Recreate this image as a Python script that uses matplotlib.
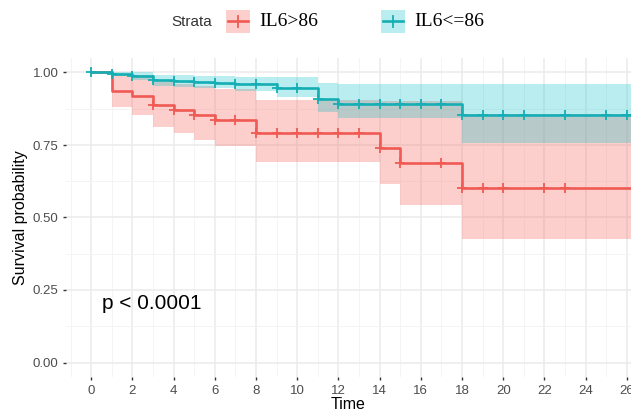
import numpy as np
import matplotlib
matplotlib.use("Agg")
import matplotlib.pyplot as plt
from matplotlib.patches import Rectangle
from matplotlib.lines import Line2D
from matplotlib.ticker import MultipleLocator

plt.rcParams["font.family"] = ["Liberation Sans", "DejaVu Sans"]

# KM curve for IL6>86 (event times, survival, CI)
red_time = [0, 1, 2, 3, 4, 5, 6, 8, 14, 15, 18]
red_surv = [1.0, 0.937, 0.919, 0.887, 0.870, 0.853, 0.835, 0.790, 0.740, 0.687, 0.600]
red_lo = [1.0, 0.880, 0.855, 0.811, 0.791, 0.768, 0.746, 0.692, 0.616, 0.544, 0.427]
red_hi = [1.0, 0.990, 0.990, 0.967, 0.960, 0.952, 0.943, 0.905, 0.900, 0.900, 0.857]
red_cens = [3, 4, 5, 6, 7, 8, 9, 10, 11, 12, 13, 14, 15, 17, 18, 19, 20, 22, 23]

# KM curve for IL6<=86
teal_time = [0, 1, 2, 3, 4, 5, 6, 7, 9, 11, 12, 18]
teal_surv = [1.0, 0.996, 0.989, 0.975, 0.969, 0.967, 0.965, 0.959, 0.947, 0.909, 0.893, 0.853]
teal_lo = [1.0, 0.988, 0.975, 0.955, 0.950, 0.948, 0.945, 0.937, 0.917, 0.865, 0.842, 0.757]
teal_hi = [1.0, 1.0, 1.0, 0.993, 0.990, 0.988, 0.987, 0.985, 0.983, 0.965, 0.962, 0.962]
teal_cens = [0, 1, 2, 3, 4, 5, 6, 7, 8, 9, 10, 11, 12, 13, 14, 15, 16, 17, 18, 19, 20, 21, 23, 25, 26]

end_time = 26.5
labels = ["IL6>86", "IL6<=86"]
RED = "#F8766D"
TEAL = "#00BFC4"
RED_LINE = "#F05A54"
TEAL_LINE = "#14AEB4"

W, H = 631, 411
fig = plt.figure(figsize=(W / 100, H / 100), dpi=100)
ax = fig.add_axes([66 / W, 1 - 377 / H, (W - 66) / W, (377 - 58) / H])


def draw_curve(t, s, lo, hi, cens, col, lcol, a):
    t = list(t) + [end_time]
    s = list(s) + [s[-1]]
    lo = list(lo) + [lo[-1]]
    hi = list(hi) + [hi[-1]]
    ax.fill_between(t, lo, hi, step="post", color=col, alpha=a, lw=0)
    ax.step(t, s, where="post", color=lcol, lw=1.9, zorder=3)
    idx = np.searchsorted(t[:-1], cens, side="right") - 1
    cy = np.array(s)[idx]
    ax.plot(cens, cy, ls="none", marker="+", ms=7, mew=1.3, color=lcol, zorder=4)


draw_curve(red_time, red_surv, red_lo, red_hi, red_cens, RED, RED_LINE, 0.35)
draw_curve(teal_time, teal_surv, teal_lo, teal_hi, teal_cens, TEAL, TEAL_LINE, 0.27)

ax.set_xlim(-1.22, 26.2)
ax.set_ylim(-0.05, 1.05)
ax.xaxis.set_major_locator(MultipleLocator(2))
ax.xaxis.set_minor_locator(MultipleLocator(1))
ax.yaxis.set_major_locator(MultipleLocator(0.25))
ax.yaxis.set_minor_locator(MultipleLocator(0.125))
ax.yaxis.set_major_formatter(plt.FuncFormatter(lambda v, p: "%.2f" % v))
ax.grid(which="major", color="#EBEBEB", lw=1.1)
ax.grid(which="minor", color="#F3F3F3", lw=0.6)
ax.set_axisbelow(True)
for sp in ax.spines.values():
    sp.set_visible(False)
ax.tick_params(which="major", length=2.5, width=1.0, color="#333333",
               labelsize=9.5, labelcolor="#4D4D4D", pad=3)
ax.tick_params(which="minor", length=0)

ax.set_xlabel("Time", fontsize=11.5, labelpad=0)
ax.set_ylabel("Survival probability", fontsize=11.5, labelpad=3)

ax.text(0.55, 0.205, "p < 0.0001", fontsize=15, ha="left", va="center")

# legend drawn by hand, sans title and serif labels
def fx(px):
    return px / W


def fy(py):
    return 1 - py / H


fig.text(fx(171), fy(21.5), "Strata", fontsize=11, color="#333333",
         ha="left", va="center")
keys = [(226, RED, RED_LINE, 0.35, labels[0]), (381, TEAL, TEAL_LINE, 0.27, labels[1])]
for x0, col, lcol, a, lab in keys:
    fig.add_artist(Rectangle((fx(x0), fy(33)), 24 / W, 23 / H,
                             transform=fig.transFigure, facecolor=col,
                             alpha=a, lw=0))
    fig.add_artist(Line2D([fx(x0 + 2), fx(x0 + 22)], [fy(21.5), fy(21.5)],
                          transform=fig.transFigure, color=lcol, lw=1.9))
    fig.add_artist(Line2D([fx(x0 + 12), fx(x0 + 12)], [fy(16), fy(27)],
                          transform=fig.transFigure, color=lcol, lw=1.3))
    fig.text(fx(x0 + 33), fy(21.5), lab, fontsize=14, family="Liberation Serif",
             ha="left", va="center")

fig.savefig("out.png", dpi=100)
